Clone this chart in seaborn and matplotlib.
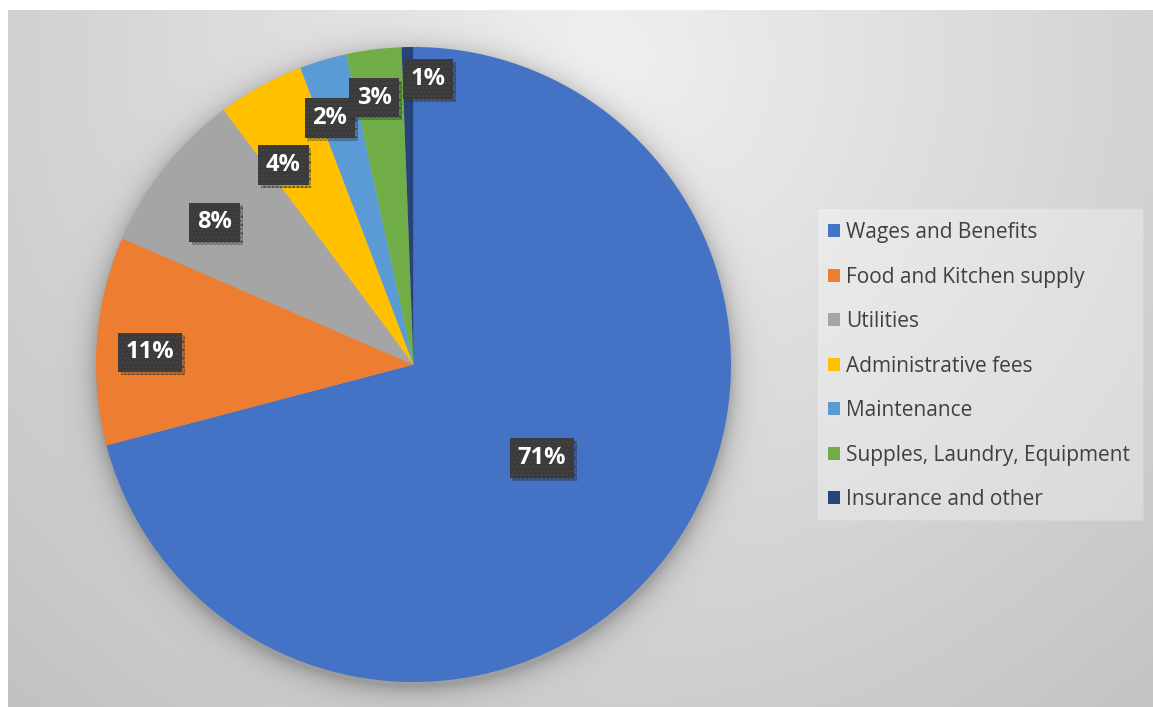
import numpy as np
import matplotlib
matplotlib.use("Agg")
import matplotlib.pyplot as plt
import matplotlib.patheffects as pe
from matplotlib.patches import Patch, Rectangle
import seaborn as sns

# Share of operating costs (%)
categories = ["Wages and Benefits", "Food and Kitchen supply", "Utilities",
              "Administrative fees", "Maintenance", "Supples, Laundry, Equipment",
              "Insurance and other"]
shares = [70.9, 10.6, 8.3, 4.4, 2.4, 2.8, 0.6]
colors = ["#4472C4", "#ED7D31", "#A5A5A5", "#FFC000", "#5B9BD5", "#70AD47", "#264478"]

# label placement per wedge: radius fraction and a small angular nudge (degrees)
label_radius = [0.50, 0.83, 0.77, 0.75, 0.82, 0.85, 0.90]
label_nudge = [1.5, 1.7, 2.8, 4.3, 2.2, 1.2, -4.0]

sns.set_theme(style="white")
plt.rcParams["font.family"] = ["Open Sans", "DejaVu Sans"]
plt.rcParams["hatch.linewidth"] = 1.2

W, H, DPI = 1153, 707, 100
fig = plt.figure(figsize=(W / DPI, H / DPI), dpi=DPI, facecolor="white")

# chart area: soft radial gradient with a shadow under the pie
pcx, pcy, pr = 413.5, 364.5, 317.5
bg_ax = fig.add_axes([8 / W, 0, 1 - 8 / W, 1 - 10 / H])
bg_ax.set_axis_off()
pw, ph = W - 8, H - 10
yy, xx = np.mgrid[0:ph, 0:pw]
px, py = xx + 8, yy + 10
d = np.hypot(px - 600, py - 60)
base = 240 - 46 * np.clip(d / 870, 0, 1.1)
ring = np.hypot(px - pcx, py - (pcy + 4)) - pr
shade = 48 * np.exp(-np.clip(ring, 0, None) / 11)
val = np.clip((base - shade) / 255, 0, 1)
bg_ax.imshow(np.dstack([val, val, val]), extent=[0, 1, 0, 1], aspect="auto",
             origin="upper", interpolation="bilinear")
bg_ax.set_xlim(0, 1)
bg_ax.set_ylim(0, 1)

# pie
ax = fig.add_axes([(pcx - pr) / W, (H - pcy - pr) / H, 2 * pr / W, 2 * pr / H])
wedges, _ = ax.pie(shares, colors=colors, startangle=90, counterclock=False,
                   radius=1, wedgeprops=dict(linewidth=0))
ax.set_xlim(-1, 1)
ax.set_ylim(-1, 1)
ax.set_aspect("equal")
ax.set_axis_off()

for w, pct, rf, nd in zip(wedges, shares, label_radius, label_nudge):
    ang = np.deg2rad((w.theta1 + w.theta2) / 2 + nd)
    t = ax.text(rf * np.cos(ang), rf * np.sin(ang), f"{pct:.0f}%",
                ha="center", va="center", color="white", fontsize=17,
                fontweight="bold",
                bbox=dict(boxstyle="square,pad=0.33", fc="#3a3a3a", ec="#444444",
                          lw=0, hatch="...."))
    t.get_bbox_patch().set_path_effects(
        [pe.SimplePatchShadow(offset=(2, -2), shadow_rgbFace="black", alpha=0.2),
         pe.Normal()])

# legend
fig.patches.append(Rectangle((817 / W, 1 - 520 / H), (1143 - 817) / W, (520 - 208) / H,
                             transform=fig.transFigure, facecolor="white", alpha=0.3,
                             edgecolor="#d4d4d4", lw=0.8, zorder=0))
handles = [Patch(facecolor=c, edgecolor="none") for c in colors]
fig.legend(handles, categories, loc="upper left", bbox_to_anchor=(828 / W, 1 - 222 / H),
           frameon=False, fontsize=15, handlelength=0.58, handleheight=0.58,
           handletextpad=0.3, labelspacing=1.13, borderpad=0, borderaxespad=0,
           labelcolor="#404040")

fig.savefig("out.png", dpi=DPI)
